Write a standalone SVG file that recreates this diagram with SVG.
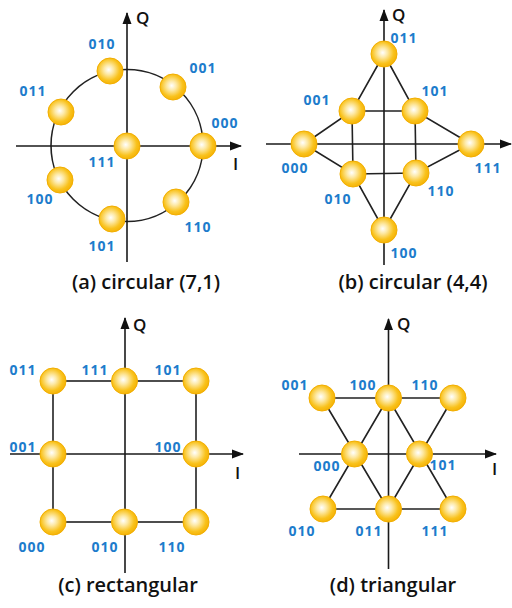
<svg xmlns="http://www.w3.org/2000/svg" width="512" height="608" viewBox="0 0 512 608">
<style>
.ax{stroke:#1a1a1a;stroke-width:1.6;fill:none}
.ln{stroke:#222;stroke-width:1.6;fill:none}
.nd{fill:url(#ball);stroke:#f2ae00;stroke-width:1}
.lb{font-family:"Open Sans","Liberation Sans",sans-serif;font-weight:700;font-size:14px;fill:#1c7ccc;text-anchor:middle;letter-spacing:1px}
.axl{font-family:"Open Sans","Liberation Sans",sans-serif;font-weight:600;font-size:17px;fill:#111}
.cap{font-family:"Open Sans","Liberation Sans",sans-serif;font-weight:600;font-size:20px;fill:#111;text-anchor:middle}
</style>
<defs>
<radialGradient id="ball" cx="0.45" cy="0.45" r="0.6">
<stop offset="0" stop-color="#ffffff"/>
<stop offset="0.3" stop-color="#fde9a6"/>
<stop offset="0.7" stop-color="#f9c21c"/>
<stop offset="1" stop-color="#f4ae00"/>
</radialGradient>
<marker id="arr" markerWidth="12" markerHeight="10" refX="11" refY="5" orient="auto" markerUnits="userSpaceOnUse">
<path d="M0,0.5 L12,5 L0,9.5 z" fill="#111"/>
</marker>
</defs>

<!-- Panel (a) -->
<g id="connectors-a">
<circle class="ln" cx="127" cy="145.5" r="76"/>
<line class="ax" x1="16" y1="146" x2="241" y2="146" marker-end="url(#arr)"/>
<line class="ax" x1="127" y1="262" x2="127" y2="13" marker-end="url(#arr)"/>
</g>
<text class="axl" x="136" y="24">Q</text>
<text class="axl" x="233" y="170">I</text>
<g id="a-111"><circle class="nd" cx="127" cy="146" r="13"/><text class="lb" x="102" y="167">111</text></g>
<g id="a-000"><circle class="nd" cx="203" cy="146" r="13"/><text class="lb" x="225" y="128">000</text></g>
<g id="a-001"><circle class="nd" cx="173" cy="87" r="13"/><text class="lb" x="203" y="73">001</text></g>
<g id="a-010"><circle class="nd" cx="110" cy="71" r="13"/><text class="lb" x="102" y="49">010</text></g>
<g id="a-011"><circle class="nd" cx="61" cy="112" r="13"/><text class="lb" x="33" y="96">011</text></g>
<g id="a-100"><circle class="nd" cx="60" cy="180" r="13"/><text class="lb" x="40" y="204">100</text></g>
<g id="a-101"><circle class="nd" cx="112" cy="219" r="13"/><text class="lb" x="102" y="251">101</text></g>
<g id="a-110"><circle class="nd" cx="176" cy="202" r="13"/><text class="lb" x="198" y="232">110</text></g>
<text class="cap" x="146" y="289">(a) circular (7,1)</text>

<!-- Panel (b) -->
<g id="connectors-b">
<path class="ln" d="M384,54 L352,111 L304,144 M384,54 L415,111 L471,144 M352,111 L415,111 M352,111 L353,174 M415,111 L416,173 M304,144 L353,174 L384,230 M471,144 L416,173 L384,230 M353,174 L416,173"/>
<line class="ax" x1="266" y1="144" x2="511" y2="144" marker-end="url(#arr)"/>
<line class="ax" x1="384" y1="265" x2="384" y2="10" marker-end="url(#arr)"/>
</g>
<text class="axl" x="392" y="21">Q</text>
<g id="b-011"><circle class="nd" cx="384" cy="54" r="13"/><text class="lb" x="404" y="43">011</text></g>
<g id="b-001"><circle class="nd" cx="352" cy="111" r="13"/><text class="lb" x="317" y="105">001</text></g>
<g id="b-101"><circle class="nd" cx="415" cy="111" r="13"/><text class="lb" x="435" y="96">101</text></g>
<g id="b-000"><circle class="nd" cx="304" cy="144" r="13"/><text class="lb" x="295" y="173">000</text></g>
<g id="b-111"><circle class="nd" cx="471" cy="144" r="13"/><text class="lb" x="488" y="173">111</text></g>
<g id="b-010"><circle class="nd" cx="353" cy="174" r="13"/><text class="lb" x="338" y="204">010</text></g>
<g id="b-110"><circle class="nd" cx="416" cy="173" r="13"/><text class="lb" x="441" y="196">110</text></g>
<g id="b-100"><circle class="nd" cx="384" cy="230" r="13"/><text class="lb" x="404" y="258">100</text></g>
<text class="cap" x="413" y="289">(b) circular (4,4)</text>

<!-- Panel (c) -->
<g id="connectors-c">
<rect class="ln" x="53" y="381" width="143" height="141"/>
<line class="ax" x1="10" y1="454" x2="243" y2="454" marker-end="url(#arr)"/>
<line class="ax" x1="125" y1="573" x2="125" y2="318" marker-end="url(#arr)"/>
</g>
<text class="axl" x="133" y="331">Q</text>
<text class="axl" x="235" y="479">I</text>
<g id="c-011"><circle class="nd" cx="53" cy="381" r="13"/><text class="lb" x="23" y="375">011</text></g>
<g id="c-111"><circle class="nd" cx="124.5" cy="381" r="13"/><text class="lb" x="95" y="375">111</text></g>
<g id="c-101"><circle class="nd" cx="196" cy="381" r="13"/><text class="lb" x="168" y="375">101</text></g>
<g id="c-001"><circle class="nd" cx="53" cy="454" r="13"/><text class="lb" x="23" y="452">001</text></g>
<g id="c-100"><circle class="nd" cx="196" cy="454" r="13"/><text class="lb" x="168" y="452">100</text></g>
<g id="c-000"><circle class="nd" cx="53" cy="522" r="13"/><text class="lb" x="32" y="552">000</text></g>
<g id="c-010"><circle class="nd" cx="124.5" cy="522" r="13"/><text class="lb" x="105" y="552">010</text></g>
<g id="c-110"><circle class="nd" cx="196" cy="522" r="13"/><text class="lb" x="172" y="552">110</text></g>
<text class="cap" x="128" y="592">(c) rectangular</text>

<!-- Panel (d) -->
<g id="connectors-d">
<path class="ln" d="M322,398 L453,398 M323,509 L453,509 M322,398 L388,509 M388,398 L453,509 M388,398 L323,509 M453,398 L388,509"/>
<line class="ax" x1="299" y1="454" x2="496" y2="454" marker-end="url(#arr)"/>
<line class="ax" x1="388.5" y1="569" x2="388.5" y2="319" marker-end="url(#arr)"/>
</g>
<text class="axl" x="397" y="330">Q</text>
<text class="axl" x="492" y="475">I</text>
<g id="d-001"><circle class="nd" cx="322" cy="398" r="13"/><text class="lb" x="295" y="390">001</text></g>
<g id="d-100"><circle class="nd" cx="388.5" cy="398" r="13"/><text class="lb" x="363" y="390">100</text></g>
<g id="d-110"><circle class="nd" cx="453" cy="398" r="13"/><text class="lb" x="425" y="390">110</text></g>
<g id="d-000"><circle class="nd" cx="354.5" cy="454" r="13"/><text class="lb" x="327" y="471">000</text></g>
<g id="d-101"><circle class="nd" cx="419.5" cy="454" r="13"/><text class="lb" x="443" y="470">101</text></g>
<g id="d-010"><circle class="nd" cx="323" cy="509" r="13"/><text class="lb" x="302" y="536">010</text></g>
<g id="d-011"><circle class="nd" cx="388.5" cy="509" r="13"/><text class="lb" x="369" y="536">011</text></g>
<g id="d-111"><circle class="nd" cx="453" cy="509" r="13"/><text class="lb" x="435" y="536">111</text></g>
<text class="cap" x="393" y="592">(d) triangular</text>
</svg>
